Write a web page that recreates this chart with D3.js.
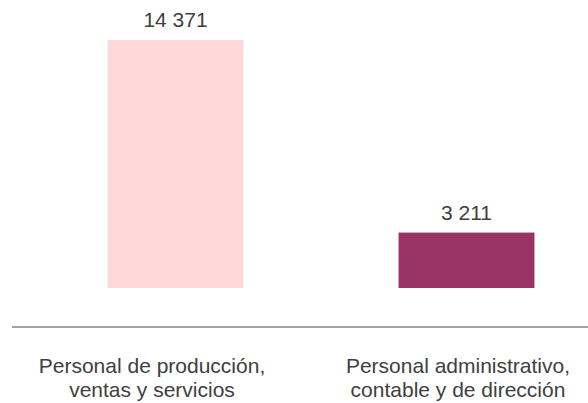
<!DOCTYPE html>
<html lang="en">
<head>
<meta charset="UTF-8">
<title>Personal</title>
<script src="https://d3js.org/d3.v7.min.js"></script>
<style>
    body { margin: 0; background: #fff; }
    .value, .cat { font-family: "Liberation Sans", Arial, sans-serif; fill: #404040; }
</style>
</head>
<body>
<svg width="588" height="403"></svg>
<script>
    const categories = [
        ["Personal de producción,", "ventas y servicios"],
        ["Personal administrativo,", "contable y de dirección"]
    ];
    const values = [14371, 3211];
    const colors = ["#ffd9d9", "#993366"];

    const svg = d3.select("svg");

    const x = d3.scaleBand()
        .domain(d3.range(values.length))
        .range([30, 612])
        .paddingInner(0.533)
        .paddingOuter(0.2665);

    // category labels sit a little left of the bar centres
    const xLabel = d3.scalePoint()
        .domain(d3.range(categories.length))
        .range([152, 458]);

    const y = d3.scaleLinear()
        .domain([0, d3.max(values)])
        .range([288, 40]);

    const fmt = v => d3.format(",")(v).replace(/,/g, " ");

    // bars
    svg.append("g")
        .selectAll("rect")
        .data(values)
        .enter().append("rect")
        .attr("x", (d, i) => x(i))
        .attr("y", d => y(d))
        .attr("width", x.bandwidth())
        .attr("height", d => y(0) - y(d))
        .attr("fill", (d, i) => colors[i]);

    // value labels
    svg.append("g")
        .selectAll("text")
        .data(values)
        .enter().append("text")
        .attr("class", "value")
        .attr("x", (d, i) => x(i) + x.bandwidth() / 2)
        .attr("y", d => y(d) - 13)
        .attr("text-anchor", "middle")
        .style("font-size", "21px")
        .text(d => fmt(d));

    // baseline
    svg.append("line")
        .attr("x1", 12)
        .attr("x2", 588)
        .attr("y1", 327)
        .attr("y2", 327)
        .attr("stroke", "#868686")
        .attr("stroke-width", 1.4);

    // category labels
    const cat = svg.append("g")
        .selectAll("text")
        .data(categories)
        .enter().append("text")
        .attr("class", "cat")
        .attr("text-anchor", "middle")
        .style("font-size", "21px");

    cat.selectAll("tspan")
        .data((d, i) => d.map(t => ({t, i})))
        .enter().append("tspan")
        .attr("x", d => xLabel(d.i))
        .attr("y", (d, j) => 373 + j * 24)
        .text(d => d.t);
</script>
</body>
</html>
